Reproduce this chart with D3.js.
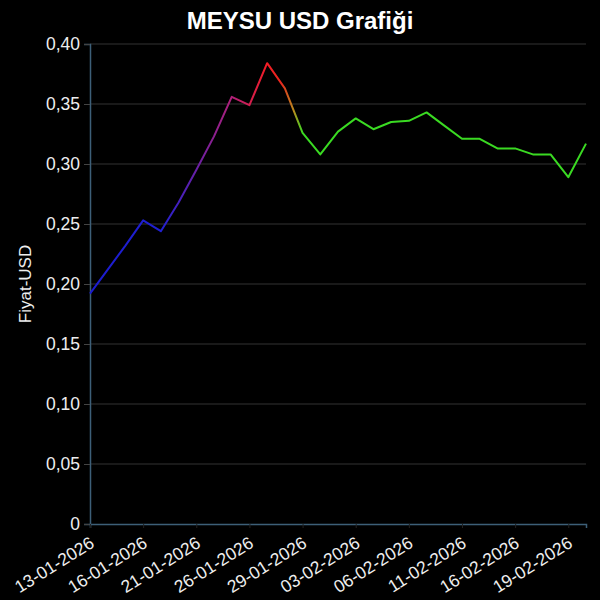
<!DOCTYPE html>
<html>
<head>
<meta charset="utf-8">
<script src="https://cdn.jsdelivr.net/npm/d3@7"></script>
<style>
  body { margin: 0; background: #000; }
  svg { display: block; font-family: "Liberation Sans", Arial, sans-serif; }
</style>
</head>
<body>
<div id="chart"></div>
<script>
// işlem günleri (hafta sonu yok)
const dates = [
  "13-01-2026", "14-01-2026", "15-01-2026", "16-01-2026", "19-01-2026",
  "20-01-2026", "21-01-2026", "22-01-2026", "23-01-2026", "26-01-2026",
  "27-01-2026", "28-01-2026", "29-01-2026", "30-01-2026", "02-02-2026",
  "03-02-2026", "04-02-2026", "05-02-2026", "06-02-2026", "09-02-2026",
  "10-02-2026", "11-02-2026", "12-02-2026", "13-02-2026", "16-02-2026",
  "17-02-2026", "18-02-2026", "19-02-2026", "20-02-2026"
];
const prices = [
  0.192, 0.212, 0.232, 0.253, 0.244,
  0.268, 0.295, 0.323, 0.356, 0.349,
  0.384, 0.363, 0.326, 0.308, 0.327,
  0.338, 0.329, 0.335, 0.336, 0.343,
  0.332, 0.321, 0.321, 0.313, 0.313,
  0.308, 0.308, 0.289, 0.317
];
const xTickLabels = [
  "13-01-2026", "16-01-2026", "21-01-2026", "26-01-2026", "29-01-2026",
  "03-02-2026", "06-02-2026", "11-02-2026", "16-02-2026", "19-02-2026"
];
const yTicks = [0, 0.05, 0.10, 0.15, 0.20, 0.25, 0.30, 0.35, 0.40];

// renk geçişi (veri indeksine göre)
const gradStops = [
  { i: 0, c: "#1c1ccf" },
  { i: 4, c: "#2020d2" },
  { i: 8, c: "#b0207a" },
  { i: 10, c: "#f41c24" },
  { i: 10.8, c: "#e8281e" },
  { i: 11.5, c: "#b88a1e" },
  { i: 12, c: "#3ada22" },
  { i: 28, c: "#3ada22" }
];

const W = 600, H = 600;
const margin = { top: 44, right: 14, bottom: 76, left: 90 };

const svg = d3.select("#chart").append("svg")
  .attr("width", W).attr("height", H)
  .style("background", "#000");

const x = d3.scalePoint().domain(dates).range([margin.left, W - margin.right]);
const y = d3.scaleLinear().domain([0, 0.4]).range([H - margin.bottom, margin.top]);
const idx = d3.scaleLinear().domain([0, dates.length - 1]).range([margin.left, W - margin.right]);

// başlık
svg.append("text")
  .attr("x", W / 2).attr("y", 29)
  .attr("text-anchor", "middle")
  .attr("fill", "#fff")
  .attr("font-size", "24px")
  .attr("font-weight", "bold")
  .text("MEYSU USD Grafiği");

// yatay ızgara
svg.append("g")
  .selectAll("line")
  .data(yTicks.filter(d => d > 0))
  .join("line")
  .attr("x1", margin.left).attr("x2", W - margin.right)
  .attr("y1", d => y(d)).attr("y2", d => y(d))
  .attr("stroke", "#333")
  .attr("stroke-width", 1);

// y ekseni
const yAxis = svg.append("g")
  .attr("transform", `translate(${margin.left},0)`)
  .call(d3.axisLeft(y).tickValues(yTicks).tickSize(6).tickPadding(4)
    .tickFormat(d => d === 0 ? "0" : d.toFixed(2).replace(".", ",")));
yAxis.select(".domain").attr("stroke", "#3d5f78").attr("stroke-width", 1.5);
yAxis.selectAll(".tick line").attr("stroke", "#444");
yAxis.selectAll(".tick text").attr("fill", "#eee").attr("font-size", "17.5px")
  .attr("font-family", "Liberation Sans, Arial, sans-serif");

// x ekseni
const xAxis = svg.append("g")
  .attr("transform", `translate(0,${H - margin.bottom})`)
  .call(d3.axisBottom(x).tickValues(xTickLabels).tickSize(4).tickPadding(4));
xAxis.select(".domain").attr("stroke", "#3d5f78").attr("stroke-width", 1.5);
xAxis.selectAll(".tick line").attr("stroke", "#222");
xAxis.selectAll(".tick text")
  .attr("fill", "#eee").attr("font-size", "17.5px")
  .attr("font-family", "Liberation Sans, Arial, sans-serif")
  .attr("text-anchor", "end")
  .attr("x", 0).attr("y", 0)
  .attr("dy", "0.75em")
  .attr("transform", "translate(-2,11) rotate(-32)");

// y başlığı
svg.append("text")
  .attr("transform", `translate(31,${(margin.top + H - margin.bottom) / 2}) rotate(-90)`)
  .attr("text-anchor", "middle")
  .attr("fill", "#eee")
  .attr("font-size", "17px")
  .text("Fiyat-USD");

// çizgi gradyanı
const grad = svg.append("defs").append("linearGradient")
  .attr("id", "lineGrad")
  .attr("gradientUnits", "userSpaceOnUse")
  .attr("x1", idx(0)).attr("x2", idx(dates.length - 1))
  .attr("y1", 0).attr("y2", 0);
grad.selectAll("stop")
  .data(gradStops)
  .join("stop")
  .attr("offset", d => d.i / (dates.length - 1))
  .attr("stop-color", d => d.c);

const line = d3.line()
  .x((d, i) => x(dates[i]))
  .y(d => y(d));

svg.append("path")
  .datum(prices)
  .attr("d", line)
  .attr("fill", "none")
  .attr("stroke", "url(#lineGrad)")
  .attr("stroke-width", 2)
  .attr("stroke-linejoin", "round");
</script>
</body>
</html>
